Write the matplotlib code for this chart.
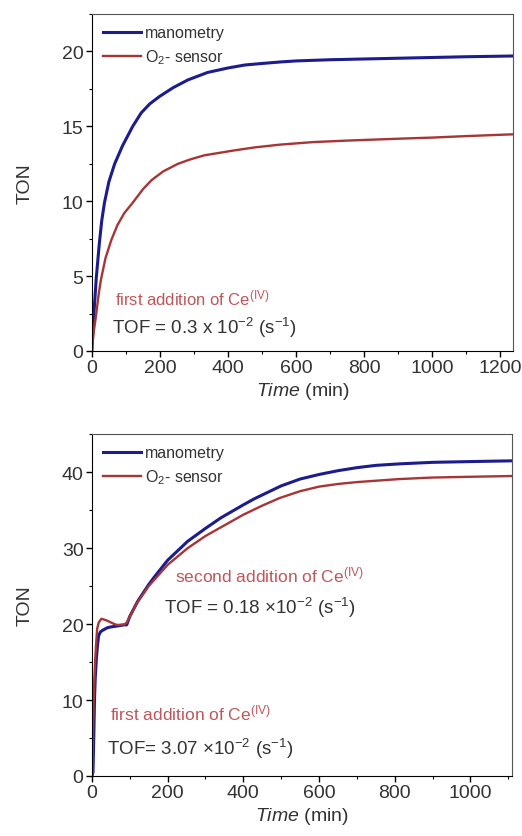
import matplotlib
matplotlib.use('Agg')
import matplotlib.pyplot as plt
from matplotlib.ticker import MultipleLocator

plt.rcParams['font.family'] = ['Liberation Sans', 'DejaVu Sans']
plt.rcParams['mathtext.fontset'] = 'custom'
plt.rcParams['mathtext.rm'] = 'Liberation Sans'
plt.rcParams['mathtext.it'] = 'Liberation Sans:italic'

# --- top panel: first addition of Ce(IV) ---
top_t_mano = [0, 3, 6, 13, 22, 29, 37, 50, 67, 90, 120, 145, 170, 199, 240,
              282, 340, 400, 450, 500, 553, 600, 700, 800, 900, 1000, 1100, 1238]
top_ton_mano = [0, 1.4, 2.5, 4.9, 7.2, 8.7, 9.9, 11.3, 12.5, 13.7, 15.0, 15.9,
                16.5, 17.0, 17.6, 18.1, 18.6, 18.9, 19.1, 19.2, 19.3, 19.37,
                19.45, 19.5, 19.55, 19.6, 19.65, 19.7]
top_t_o2 = [0, 5, 13, 20, 27, 40, 57, 75, 95, 120, 150, 175, 210, 253, 290,
            331, 380, 420, 480, 553, 650, 750, 906, 1000, 1100, 1238]
top_ton_o2 = [0, 1.2, 2.5, 3.8, 4.8, 6.2, 7.4, 8.4, 9.2, 9.9, 10.8, 11.4, 12.0,
              12.5, 12.8, 13.07, 13.25, 13.4, 13.6, 13.78, 13.95, 14.05, 14.18,
              14.25, 14.35, 14.47]

# --- bottom panel: first + second addition of Ce(IV) ---
bot_t_mano = [0, 3, 5, 7, 9, 12, 15, 18, 23, 29, 40, 47, 60, 73, 86, 92, 100,
              121, 150, 165, 200, 253, 300, 341, 400, 429, 500, 550, 600, 650,
              700, 750, 813, 900, 1000, 1110]
bot_ton_mano = [0, 0.5, 5.0, 10.2, 13.0, 15.5, 17.3, 18.5, 19.0, 19.2, 19.5,
                19.6, 19.7, 19.8, 19.9, 19.9, 21.0, 23.0, 25.2, 26.2, 28.4,
                30.9, 32.6, 34.0, 35.7, 36.5, 38.2, 39.1, 39.7, 40.2, 40.6,
                40.9, 41.1, 41.3, 41.4, 41.5]
bot_t_o2 = [0, 2, 3, 5, 7, 9, 12, 14, 18, 25, 32, 38, 47, 55, 65, 73, 86, 92,
            99, 121, 150, 200, 253, 300, 350, 400, 450, 496, 550, 600, 650,
            700, 813, 900, 1000, 1110]
bot_ton_o2 = [0, 0.5, 5.8, 10.2, 13.0, 15.5, 18.0, 19.4, 20.2, 20.7, 20.6, 20.5,
              20.3, 20.1, 19.9, 19.9, 19.95, 20.2, 20.9, 22.9, 25.0, 27.8, 30.0,
              31.6, 33.0, 34.4, 35.6, 36.6, 37.5, 38.1, 38.45, 38.7, 39.1, 39.3,
              39.4, 39.5]

blue = '#1c1c8f'
red = '#a83535'
txt_red = '#c0565a'
txt_dark = '#333333'

fig = plt.figure(figsize=(5.22, 8.37), dpi=100)
ax1 = fig.add_axes([0.176, 0.5795, 0.807, 0.4025])
ax2 = fig.add_axes([0.176, 0.0717, 0.805, 0.4083])


def style(ax, xmax, ymax, ymajor, yminor):
    ax.set_xlim(0, xmax)
    ax.set_ylim(0, ymax)
    ax.xaxis.set_major_locator(MultipleLocator(200))
    ax.xaxis.set_minor_locator(MultipleLocator(100))
    ax.yaxis.set_major_locator(MultipleLocator(ymajor))
    ax.yaxis.set_minor_locator(MultipleLocator(yminor))
    ax.tick_params(which='major', direction='out', length=4, width=1,
                   labelsize=14, labelcolor=txt_dark, pad=2)
    ax.tick_params(which='minor', direction='out', length=2.5, width=0.8)
    ax.spines['top'].set_color('#555555')
    ax.spines['right'].set_color('#555555')
    ax.set_ylabel('TON', fontsize=14, color=txt_dark, labelpad=20)
    ax.set_xlabel(r'$\mathit{Time}$ (min)', fontsize=14, color=txt_dark,
                  labelpad=3)
    leg = ax.legend(loc='upper left', frameon=False, fontsize=11.5,
                    handlelength=2.4, handletextpad=0.2, borderaxespad=0.3,
                    labelspacing=0.45)
    for t in leg.get_texts():
        t.set_color(txt_dark)


ce_label = 'addition of Ce$^{\\mathrm{(IV)}}$'

ax1.plot(top_t_mano, top_ton_mano, color=blue, lw=2.2, label='manometry')
ax1.plot(top_t_o2, top_ton_o2, color=red, lw=1.7, label='O$_2$- sensor')
style(ax1, 1238, 22.5, 5, 2.5)
ax1.text(68, 3.6, 'first ' + ce_label, color=txt_red, fontsize=12,
         va='center')
ax1.text(60, 1.6, 'TOF = 0.3 x 10$^{-2}$ (s$^{-1}$)', color=txt_dark,
         fontsize=13.5, va='center')

ax2.plot(bot_t_mano, bot_ton_mano, color=blue, lw=2.2, label='manometry')
ax2.plot(bot_t_o2, bot_ton_o2, color=red, lw=1.7, label='O$_2$- sensor')
style(ax2, 1110, 45, 10, 5)
ax2.text(219, 26.6, 'second ' + ce_label, color=txt_red, fontsize=12.5,
         va='center')
ax2.text(190, 22.3, 'TOF = 0.18 \u00d710$^{-2}$ (s$^{-1}$)', color=txt_dark,
         fontsize=13.5, va='center')
ax2.text(47, 8.4, 'first ' + ce_label, color=txt_red, fontsize=12.5,
         va='center')
ax2.text(40, 3.7, 'TOF= 3.07 \u00d710$^{-2}$ (s$^{-1}$)', color=txt_dark,
         fontsize=13.5, va='center')

fig.savefig('out.png', dpi=100)
